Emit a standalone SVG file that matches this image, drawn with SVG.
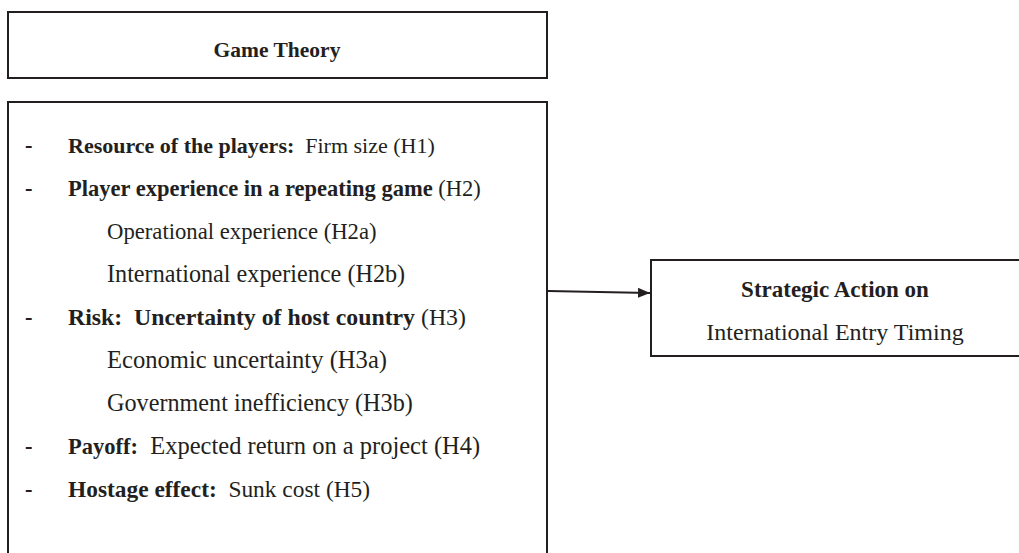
<svg xmlns="http://www.w3.org/2000/svg" width="1019" height="553" viewBox="0 0 1019 553">
<style>
.box{fill:#fff;stroke:#231f20;stroke-width:2}
text{font-family:"Liberation Serif","Times New Roman",serif;font-size:23.5px;fill:#231f20;white-space:pre}
.b{font-weight:bold}
.c{text-anchor:middle}
</style>
<defs>
<marker id="ah" markerWidth="12" markerHeight="10" refX="12" refY="5" orient="auto" markerUnits="userSpaceOnUse">
<path d="M0,0 L12,5 L0,10 Z" fill="#231f20"/>
</marker>
</defs>
<rect width="1019" height="553" fill="#fff"/>
<g id="game-theory">
<rect class="box" x="8" y="12" width="539" height="66"/>
<text class="b c" x="277" y="57" style="font-size:21.5px">Game Theory</text>
</g>
<g id="factors">
<path class="box" d="M8,560 L8,102 L547,102 L547,560"/>
<text class="b" x="25" y="153" style="font-size:22.5px">-</text><text x="68" y="153" xml:space="preserve" style="font-size:22px"><tspan class="b">Resource of the players:</tspan>  Firm size (H1)</text>
<text class="b" x="25" y="196" style="font-size:22.5px">-</text><text x="68" y="196" xml:space="preserve" style="font-size:22.5px"><tspan class="b">Player experience in a repeating game</tspan> (H2)</text>
<text x="107" y="239" style="font-size:22.7px">Operational experience (H2a)</text>
<text x="107" y="282" style="font-size:24.2px">International experience (H2b)</text>
<text class="b" x="25" y="325" style="font-size:22.5px">-</text><text x="68" y="325" xml:space="preserve" style="font-size:23.8px"><tspan class="b">Risk:  Uncertainty of host country</tspan> (H3)</text>
<text x="107" y="368" style="font-size:24.6px">Economic uncertainty (H3a)</text>
<text x="107" y="411" style="font-size:24.2px">Government inefficiency (H3b)</text>
<text class="b" x="25" y="454" style="font-size:22.5px">-</text><text x="68" y="454" xml:space="preserve" style="font-size:24.5px"><tspan class="b" style="font-size:22.5px">Payoff:</tspan>  Expected return on a project (H4)</text>
<text class="b" x="25" y="497" style="font-size:22.5px">-</text><text x="68" y="497" xml:space="preserve" style="font-size:23.4px"><tspan class="b">Hostage effect:</tspan>  Sunk cost (H5)</text>
</g>
<g id="strategic-action">
<rect class="box" x="651" y="260" width="380" height="96"/>
<text class="b c" x="835" y="297" style="font-size:23px">Strategic Action on</text>
<text class="c" x="835" y="340" style="font-size:24px">International Entry Timing</text>
</g>
<g id="connectors">
<line x1="548" y1="291" x2="650" y2="293" stroke="#231f20" stroke-width="2" marker-end="url(#ah)"/>
</g>
</svg>
